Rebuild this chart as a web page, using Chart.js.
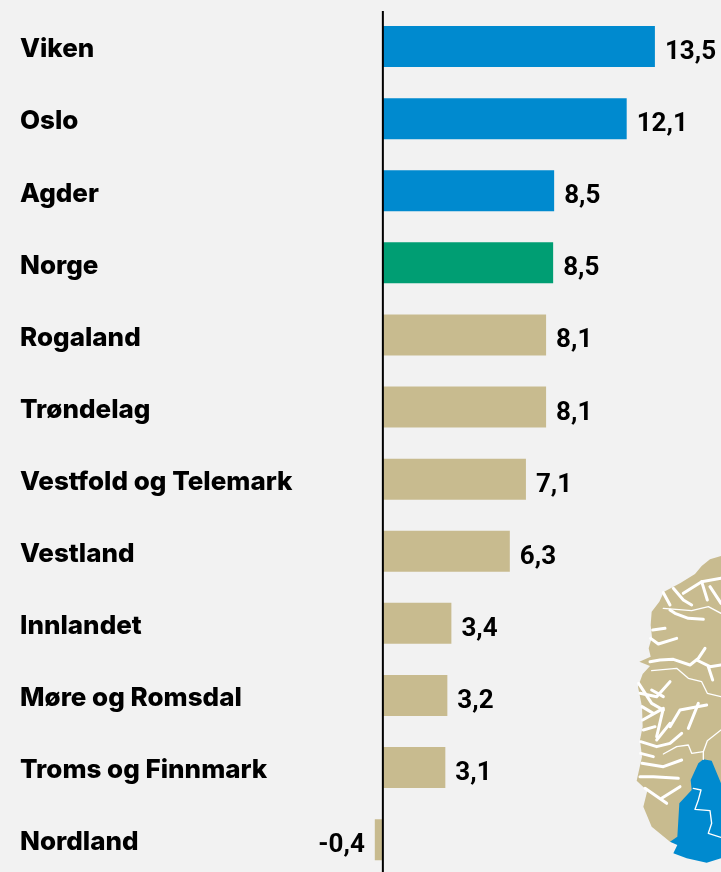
<!DOCTYPE html>
<html>
<head>
<meta charset="utf-8">
<script src="https://cdn.jsdelivr.net/npm/chart.js@4"></script>
<style>
    html, body { margin: 0; padding: 0; background: #f2f2f2; overflow: hidden; }
    #wrap { width: 721px; height: 872px; overflow: hidden; }
    canvas { display: block; }
</style>
</head>
<body>
<div id="wrap"><canvas id="grafico" width="721" height="880"></canvas></div>
<script>
const categories = ['Viken', 'Oslo', 'Agder', 'Norge', 'Rogaland', 'Trøndelag', 'Vestfold og Telemark',
    'Vestland', 'Innlandet', 'Møre og Romsdal', 'Troms og Finnmark', 'Nordland'];
const values = [13.5, 12.1, 8.5, 8.45, 8.1, 8.1, 7.1, 6.3, 3.4, 3.2, 3.1, -0.4];
const valueLabels = ['13,5', '12,1', '8,5', '8,5', '8,1', '8,1', '7,1', '6,3', '3,4', '3,2', '3,1', '-0,4'];

const BLUE = '#008acf', GREEN = '#009e73', TAN = '#c8bb8f';
const barColors = [BLUE, BLUE, BLUE, GREEN, TAN, TAN, TAN, TAN, TAN, TAN, TAN, TAN];

// map decoration in the corner (drawn in 3x coordinates, then scaled down)
const mapLand = [[303,18],[270,28],[245,48],[225,72],[180,100],[132,125],[118,155],[95,185],[92,225],[96,262],
    [86,295],[92,320],[58,335],[90,348],[68,372],[54,410],[66,470],[68,530],[60,570],[66,620],[50,692],
    [82,722],[70,770],[95,830],[150,875],[170,880],[303,880]];
const mapBlue = [[250,628],[275,632],[295,680],[303,700],[303,925],[260,938],[200,925],[160,910],[172,885],
    [150,875],[172,860],[178,760],[215,720],[212,690],[235,640]];
const mapBorders = [
    [[220,715],[243,720],[235,750],[225,778],[270,782],[275,820],[265,850],[303,862]],
    [[303,540],[262,572],[250,605],[250,628]],
    [[250,605],[215,610],[205,585],[170,590],[130,612]],
    [[95,362],[170,355],[205,385],[245,395],[262,430],[303,440]],
    [[130,175],[215,182],[265,170],[303,190]]
];
const mapFjords = [
    [[90,335],[120,330],[160,328],[210,345],[235,325],[255,295]],
    [[230,330],[270,350],[303,345]],
    [[265,350],[278,390]],
    [[92,265],[115,282],[170,265]],
    [[98,240],[135,235]],
    [[150,180],[165,190],[205,205],[250,208]],
    [[130,128],[150,165]],
    [[160,115],[190,150],[215,165]],
    [[190,130],[245,95],[303,85]],
    [[245,95],[262,150]],
    [[270,110],[303,160]],
    [[60,430],[110,440],[150,395]],
    [[95,420],[130,440]],
    [[56,400],[95,460],[130,480]],
    [[68,510],[130,475],[110,560]],
    [[150,530],[180,480],[260,465]],
    [[205,535],[235,460]],
    [[110,570],[150,520]],
    [[62,575],[110,590],[150,580],[185,550]],
    [[66,640],[130,650],[185,630]],
    [[60,680],[100,680],[175,685]],
    [[75,715],[140,760]],
    [[125,745],[180,710]],
    [[66,470],[100,490]],
    [[70,540],[105,530]],
    [[62,610],[100,620]]
];

function trazar(ctx, puntos) {
    ctx.beginPath();
    puntos.forEach((p, i) => i ? ctx.lineTo(p[0], p[1]) : ctx.moveTo(p[0], p[1]));
}

const mapa = {
    id: 'mapa',
    beforeDatasetsDraw(chart) {
        const ctx = chart.ctx;
        ctx.save();
        ctx.translate(620, 550);
        ctx.scale(1 / 3, 1 / 3);
        ctx.lineJoin = 'round';
        ctx.lineCap = 'round';
        ctx.fillStyle = TAN;
        trazar(ctx, mapLand);
        ctx.closePath();
        ctx.fill();
        ctx.fillStyle = BLUE;
        trazar(ctx, mapBlue);
        ctx.closePath();
        ctx.fill();
        ctx.strokeStyle = '#ffffff';
        ctx.lineWidth = 4;
        mapBorders.forEach(l => { trazar(ctx, l); ctx.stroke(); });
        ctx.lineWidth = 9;
        mapFjords.forEach(l => { trazar(ctx, l); ctx.stroke(); });
        ctx.restore();
    }
};

const rotulos = {
    id: 'rotulos',
    afterDatasetsDraw(chart) {
        const ctx = chart.ctx;
        const x0 = chart.scales.x.getPixelForValue(0);
        ctx.save();
        // eje vertical en cero
        ctx.strokeStyle = '#000000';
        ctx.lineWidth = 2;
        ctx.beginPath();
        ctx.moveTo(x0, 11);
        ctx.lineTo(x0, chart.height);
        ctx.stroke();
        ctx.fillStyle = '#000000';
        ctx.textBaseline = 'middle';
        // nombres
        ctx.font = '800 26px Inter';
        ctx.textAlign = 'left';
        categories.forEach((c, i) => {
            ctx.fillText(c, 20, chart.scales.y.getPixelForTick(i) + 3);
        });
        // valores
        ctx.font = 'bold 26px Roboto';
        chart.getDatasetMeta(0).data.forEach((bar, i) => {
            ctx.textAlign = values[i] < 0 ? 'right' : 'left';
            ctx.fillText(valueLabels[i], bar.x + (values[i] < 0 ? -10 : 10), bar.y + 6);
        });
        ctx.restore();
    }
};

new Chart(document.getElementById('grafico').getContext('2d'), {
    type: 'bar',
    data: {
        labels: categories,
        datasets: [{
            data: values,
            backgroundColor: barColors,
            borderWidth: 0,
            categoryPercentage: 1,
            barPercentage: 0.568
        }]
    },
    options: {
        indexAxis: 'y',
        responsive: false,
        animation: false,
        layout: { padding: { top: 10.5, bottom: 4.3 } },
        plugins: { legend: { display: false }, tooltip: { enabled: false } },
        scales: {
            x: { display: false, min: -19, max: 16.78 },
            y: {
                position: 'left',
                grid: { display: false },
                border: { display: false },
                afterFit(scale) {
                    scale.width = 0;
                    scale.paddingTop = 0;
                    scale.paddingBottom = 0;
                },
                ticks: { display: false }
            }
        }
    },
    plugins: [mapa, rotulos]
});
</script>
</body>
</html>
